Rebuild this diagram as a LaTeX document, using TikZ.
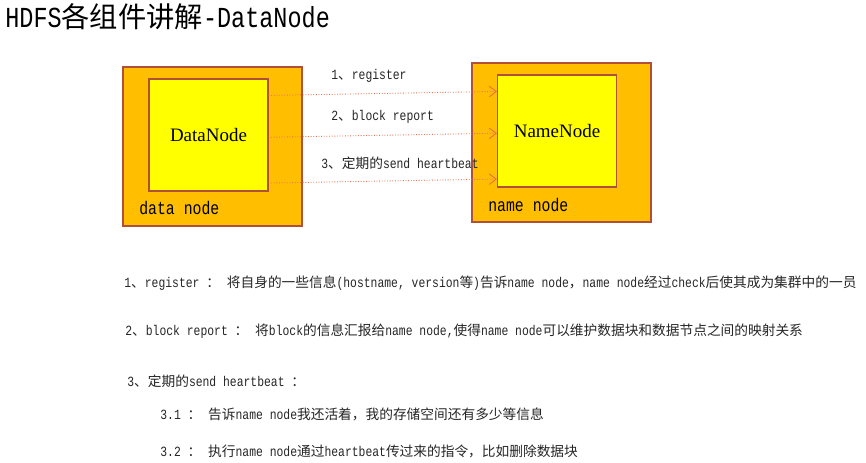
\documentclass[tikz,border=0pt]{standalone}
\usepackage{fontspec}
\setmainfont{Liberation Mono}[FakeStretch=0.81]
\newfontfamily\zh{Noto Sans CJK SC}[Scale=0.975]
\newfontfamily\boxfont{Liberation Serif}
\definecolor{DNorange}{HTML}{FFBF00}
\definecolor{DNyellow}{HTML}{FFFF00}
\definecolor{DNborder}{HTML}{B0503A}
\definecolor{DNarrow}{HTML}{E8704A}
\definecolor{DNtext}{HTML}{262626}
\usetikzlibrary{calc, arrows.meta, positioning}

\begin{document}
\begin{tikzpicture}[x=0.02cm, y=-0.02cm,
   outerbox/.style={draw=DNborder, fill=DNorange, line width=0.6pt, inner sep=0pt,
      minimum width=3.58cm, minimum height=3.18cm},
   innerbox/.style={draw=DNborder, fill=DNyellow, line width=0.6pt, inner sep=0pt,
      minimum width=2.38cm, minimum height=2.24cm, font=\boxfont\fontsize{10.8}{13}\selectfont},
   msg/.style={DNarrow, densely dotted, line width=0.5pt,
      -{Straight Barb[length=4pt, width=6pt]}},
   txt/.style={anchor=west, inner sep=0pt, text=DNtext, font=\fontsize{8}{10}\selectfont}]
            % Page
            \fill[white] (0,0) rectangle (866,463);
            % Title
            \node[anchor=west, inner sep=0pt, font=\fontsize{16.5}{19}\selectfont]
               (title) at (5,17) {HDFS{\zh 各组件讲解}-DataNode};
            % data node (left)
            \node[outerbox] (dno) at (212.5,146.5) {};
            \node[innerbox] (dn) at (208.5,135) {DataNode};
            \node[txt, text=black, font=\fontsize{10.4}{12}\selectfont] (dnl) at (139,208) {data node};
            % name node (right)
            \node[outerbox] (nno) at (561.5,142.5) {};
            \node[innerbox] (nn) at (557,131) {NameNode};
            \node[txt, text=black, font=\fontsize{10.4}{12}\selectfont] (nnl) at (488,205) {name node};
            % Messages from DataNode to NameNode
            \foreach \f in {0.15, 0.52, 0.925}
               \draw[msg] ($(dn.north east)!\f!(dn.south east)$) -- ($(nn.north west)!\f!(nn.south west)$);
            \node[txt] (m1) at (331,76) {1{\zh 、}register};
            \node[txt] (m2) at (331,117) {2{\zh 、}block report};
            \node[txt] (m3) at (321,163) {3{\zh 、定期的}send heartbeat};
            % Notes
            \node[txt] (n1) at (124,283) {1{\zh 、}register {\zh ：} {\zh 将自身的一些信息}(hostname, version{\zh 等}){\zh 告诉}name node{\zh ，}name node{\zh 经过}check{\zh 后使其成为集群中的一员}};
            \node[txt] (n2) at (125,331) {2{\zh 、}block report {\zh ：} {\zh 将}block{\zh 的信息汇报给}name node,{\zh 使得}name node{\zh 可以维护数据块和数据节点之间的映射关系}};
            \node[txt] (n3) at (127,381) {3{\zh 、定期的}send heartbeat {\zh ：}};
            \node[txt] (n31) at (160,414) {3.1 {\zh ：} {\zh 告诉}name node{\zh 我还活着，我的存储空间还有多少等信息}};
            \node[txt] (n32) at (160,451) {3.2 {\zh ：} {\zh 执行}name node{\zh 通过}heartbeat{\zh 传过来的指令，比如删除数据块}};
         \end{tikzpicture}
\end{document}
